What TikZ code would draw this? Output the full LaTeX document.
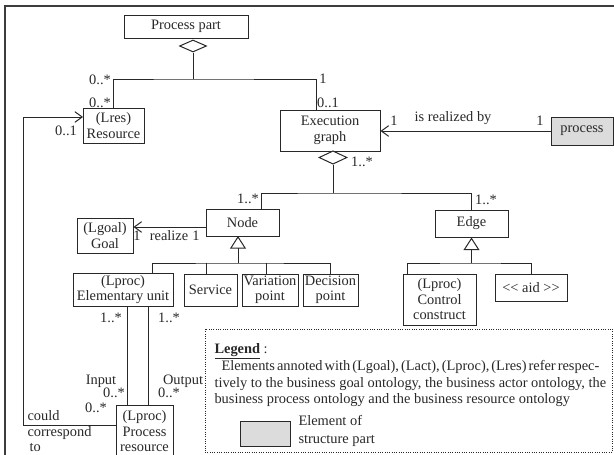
\documentclass[tikz,border=0pt]{standalone}
\usepackage{fontspec}
\setmainfont{Liberation Serif}
\usetikzlibrary{arrows.meta,shapes.geometric}

\definecolor{inkline}{RGB}{40,40,40}
\definecolor{frameline}{RGB}{60,60,60}
\definecolor{structfill}{RGB}{220,220,220}

% box given by its corners (x1,y1)-(x2,y2), in pixel units
\newcommand\umlbox[7][]{%
  \node[umlcls,#1,minimum width={(#5-#3)*0.75pt},minimum height={(#6-#4)*0.75pt}]
    (#2) at ({(#3+#5)/2},{(#4+#6)/2}) {#7};}
% a legend line set to a given width, with tight word spaces
\newcommand\tightline[2]{\makebox[#1][s]{\spaceskip=1.5pt plus 4pt\relax #2}}

\begin{document}
\begin{tikzpicture}[x=0.75pt,y=-0.75pt,line width=0.75pt,color=inkline,
  umlcls/.style={draw=inkline,fill=white,inner sep=0pt,align=center,
    font=\fontsize{10.8}{11.6}\selectfont},
  lbl/.style={inner sep=0pt,font=\fontsize{10.8}{11.6}\selectfont,
    text height=0.68em,text depth=0.2em},
  agg/.style={diamond,draw=inkline,fill=white,inner sep=0pt},
  barb/.style={-{Straight Barb[length=5.5pt,width=8pt,line width=0.75pt]}},
  gen/.style={-{Triangle[open,length=9.5pt,width=12pt,line width=0.75pt]}},
]
\useasboundingbox (0,0) rectangle (614,454);

% frame
\draw[frameline,line width=1.5pt] (5,470) -- (5,6) -- (630,6);

% classes
\umlbox{pp}{124}{15}{248}{38}{Process part}
\umlbox{res}{83}{108}{144}{143}{(Lres)\\Resource}
\umlbox{exe}{280}{110}{380}{151}{Execution\\graph}
\umlbox[fill=structfill]{proc}{551}{117}{613}{145}{process}
\umlbox{node}{206}{209}{279}{236}{Node}
\umlbox{edge}{435}{210}{508}{237}{Edge}
\umlbox{goal}{77}{218}{133}{253}{(Lgoal)\\Goal}
\umlbox{eu}{73}{273}{173}{306}{(Lproc)\\Elementary unit}
\umlbox{svc}{184}{274}{237}{306}{Service}
\umlbox{var}{242}{274}{298}{306}{Variation\\point}
\umlbox{dec}{303}{274}{358}{306}{Decision\\point}
\umlbox{cc}{403}{274}{476}{325}{(Lproc)\\Control\\construct}
\umlbox{aid}{495}{274}{567}{301}{<\kern0pt< aid >\kern0pt>}
\umlbox{pr}{116}{405}{173}{458}{(Lproc)\\Process\\resource}

% aggregation diamonds
\node[agg,minimum width=20.25pt,minimum height=9pt] (d1) at (193,46) {};
\node[agg,minimum width=21pt,minimum height=10pt] (d2) at (333,157.5) {};

% attachment points
\coordinate (hubP) at (193,79);
\coordinate (exeT) at (316,110);
\coordinate (hubE) at (333,193);
\coordinate (nodeT) at (261,209);
\coordinate (nodeL) at (206,227);
\coordinate (nodeA) at (238,236);
\coordinate (busN) at (238,263);
\coordinate (euT) at (152,273);
\coordinate (svcT) at (206,274);
\coordinate (varT) at (266,274);
\coordinate (busE) at (471.5,263);
\coordinate (ccT) at (407,274);
\coordinate (inT) at (127,306);
\coordinate (outT) at (148,306);
\coordinate (prL) at (116,425);
\coordinate (bend) at (23,425);
\coordinate (resL) at (83,117);

% composition of the process part
\draw (d1.south) -- (hubP);
\draw (res.north) |- (hubP) -| (exeT);
\draw[barb] (proc.west) -- (proc.west -| exe.east);

% execution graph
\draw (d2.south) -- (hubE);
\draw (nodeT) |- (hubE) -| (edge.north);
\draw[barb] (nodeL) -- (nodeL -| goal.east);

% node specialisations
\draw[gen] (busN) -- (nodeA);
\draw (euT) |- (busN) -| (dec.north);
\draw (svcT) -- (svcT |- busN);
\draw (varT) -- (varT |- busN);

% edge specialisations
\draw[gen] (busE) -- (edge.south);
\draw (ccT) |- (busE) -| (aid.north);

% input / output resources
\draw (inT) -- (inT |- pr.north);
\draw (outT) -- (outT |- pr.north);
\draw[barb] (prL) -- (bend) |- (resL);

% multiplicities and roles
\node[lbl] (m1) at (100,81) {0..*};
\node[lbl] (m2) at (100,104) {0..*};
\node[lbl] (m3) at (66,132) {0..1};
\node[lbl] (m4) at (323,80) {1};
\node[lbl] (m5) at (328,104) {0..1};
\node[lbl] (m6) at (394,122) {1};
\node[lbl] (r1) at (453,118) {is realized by};
\node[lbl] (m7) at (540,122) {1};
\node[lbl] (m8) at (362,163) {1..*};
\node[lbl] (m9) at (248,200) {1..*};
\node[lbl] (m10) at (486,201) {1..*};
\node[lbl] (m11) at (137,237) {1};
\node[lbl] (r2) at (169,237) {realize};
\node[lbl] (m12) at (196,237) {1};
\node[lbl] (m13) at (111,319) {1..*};
\node[lbl] (m14) at (169,319) {1..*};
\node[lbl] (r3) at (101,381) {Input};
\node[lbl] (r4) at (183,381) {Output};
\node[lbl] (m15) at (114,394) {0..*};
\node[lbl] (m16) at (169,394) {0..*};
\node[lbl] (m17) at (96,409) {0..*};
\node[lbl,anchor=west] (r5) at (27,417) {could};
\node[lbl,anchor=west] (r6) at (27,433) {correspond};
\node[lbl,anchor=west] (r7) at (29,448) {to};

% legend
\node[draw=inkline,densely dotted,minimum width={407.5*0.75pt},minimum height={123*0.75pt},inner sep=0pt]
  (legend) at (408.75,390.5) {};
\node[lbl,anchor=west] (lg0) at (214,350) {\underline{\textbf{Legend}} :};
\node[lbl,anchor=west] (lg1) at (221,367) {\tightline{273.75pt}{Elements annoted with (Lgoal), (Lact), (Lproc), (Lres) refer respec-}};
\node[lbl,anchor=west] (lg2) at (214,384) {tively to the business goal ontology, the business actor ontology, the};
\node[lbl,anchor=west] (lg3) at (214,400) {business process ontology and the business resource ontology};
\umlbox[fill=structfill]{key}{240}{421}{290}{446}{}
\node[lbl,anchor=west] (lg4) at (298,422) {Element of};
\node[lbl,anchor=west] (lg5) at (298,440) {structure part};
\end{tikzpicture}
\end{document}
